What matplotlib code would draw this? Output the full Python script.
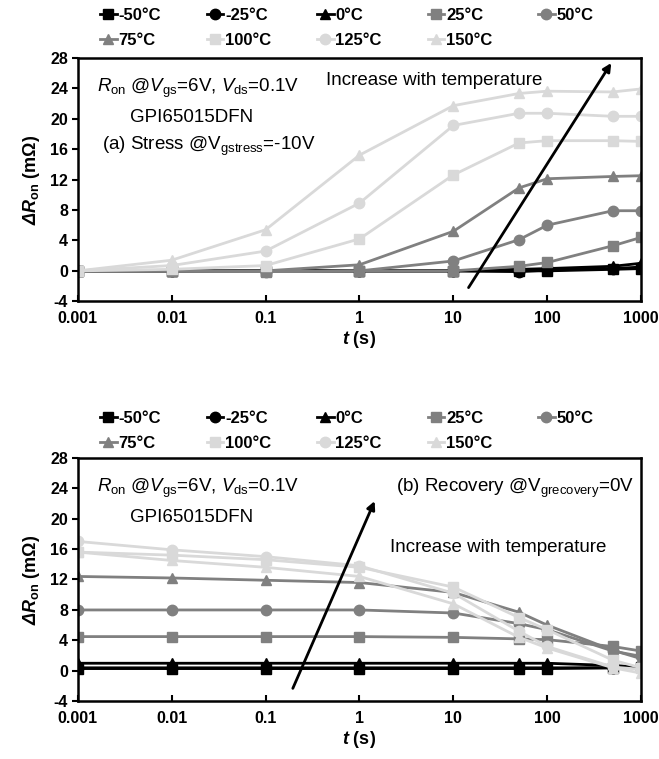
import matplotlib
matplotlib.use("Agg")
import matplotlib.pyplot as plt
from matplotlib.ticker import FixedLocator, NullLocator

plt.rcParams["font.family"] = ["Liberation Sans", "DejaVu Sans"]
plt.rcParams["mathtext.fontset"] = "custom"
plt.rcParams["mathtext.rm"] = "Liberation Sans"
plt.rcParams["mathtext.it"] = "Liberation Sans:italic"
plt.rcParams["mathtext.bf"] = "Liberation Sans:bold"
plt.rcParams["mathtext.bfit"] = "Liberation Sans:italic:bold"
plt.rcParams["axes.unicode_minus"] = False

# time points (s)
t = [0.001, 0.01, 0.1, 1, 10, 50, 100, 500, 1000]
temps = ["-50°C", "-25°C", "0°C", "25°C", "50°C", "75°C", "100°C", "125°C", "150°C"]

# (a) stress, delta R_on in mOhm
stress_m50 = [0.0, 0.0, 0.0, 0.0, 0.0, 0.0, 0.0, 0.2, 0.3]
stress_m25 = [0.0, 0.0, 0.0, 0.0, 0.0, -0.1, 0.1, 0.3, 0.5]
stress_0 = [0.0, 0.0, 0.0, 0.0, 0.0, 0.2, 0.3, 0.6, 1.0]
stress_25 = [0.0, 0.0, -0.1, 0.0, 0.0, 0.6, 1.1, 3.3, 4.4]
stress_50 = [0.0, 0.0, -0.1, 0.0, 1.3, 4.1, 6.0, 7.9, 7.9]
stress_75 = [0.0, 0.0, 0.0, 0.8, 5.2, 10.9, 12.1, 12.4, 12.5]
stress_100 = [0.0, 0.2, 0.7, 4.2, 12.6, 16.8, 17.1, 17.1, 17.0]
stress_125 = [0.0, 0.7, 2.6, 8.9, 19.1, 20.7, 20.7, 20.3, 20.3]
stress_150 = [0.0, 1.4, 5.4, 15.2, 21.7, 23.3, 23.6, 23.5, 23.9]

# (b) recovery, delta R_on in mOhm
rec_m50 = [0.3, 0.3, 0.3, 0.3, 0.3, 0.3, 0.3, 0.4, 0.5]
rec_m25 = [0.4, 0.4, 0.4, 0.4, 0.4, 0.4, 0.4, 0.4, 0.5]
rec_0 = [1.0, 1.0, 1.0, 1.0, 1.0, 1.0, 1.0, 0.7, 0.5]
rec_25 = [4.5, 4.5, 4.5, 4.5, 4.4, 4.2, 4.1, 3.2, 2.6]
rec_50 = [8.0, 8.0, 8.0, 8.0, 7.6, 6.2, 5.4, 2.6, 1.9]
rec_75 = [12.4, 12.2, 11.9, 11.6, 10.3, 7.7, 6.0, 2.7, 1.6]
rec_100 = [15.6, 15.2, 14.6, 13.6, 11.0, 7.0, 5.4, 1.4, 0.4]
rec_125 = [17.0, 15.9, 15.0, 13.8, 10.2, 5.2, 3.2, 0.5, 0.2]
rec_150 = [15.6, 14.5, 13.6, 12.4, 8.8, 4.4, 3.0, 0.4, -0.3]

stress = [stress_m50, stress_m25, stress_0, stress_25, stress_50,
          stress_75, stress_100, stress_125, stress_150]
recovery = [rec_m50, rec_m25, rec_0, rec_25, rec_50,
            rec_75, rec_100, rec_125, rec_150]

colors = ["#000000"] * 3 + ["#808080"] * 3 + ["#d9d9d9"] * 3
markers = ["s", "o", "^"] * 3

xticks = [0.001, 0.01, 0.1, 1, 10, 100, 1000]
xticklabels = ["0.001", "0.01", "0.1", "1", "10", "100", "1000"]
yticks = [-4, 0, 4, 8, 12, 16, 20, 24, 28]

fig = plt.figure(figsize=(6.59, 7.59), dpi=100)
ax_a = fig.add_axes([0.118, 0.603, 0.855, 0.321])
ax_b = fig.add_axes([0.118, 0.076, 0.855, 0.321])


def draw_panel(ax, series, leg_y):
    handles = []
    for vals, c, m, lab in zip(series, colors, markers, temps):
        h, = ax.plot(t, vals, color=c, marker=m, markersize=7.5, linewidth=2,
                     label=lab)
        handles.append(h)
    ax.set_xscale("log")
    ax.set_xlim(0.001, 1000)
    ax.set_ylim(-4, 28)
    ax.xaxis.set_major_locator(FixedLocator(xticks))
    ax.xaxis.set_minor_locator(NullLocator())
    ax.set_xticklabels(xticklabels)
    ax.set_yticks(yticks)
    ax.tick_params(axis="x", direction="in", length=4, width=1.5, pad=7)
    ax.tick_params(axis="y", direction="out", length=4, width=1.5, pad=3)
    for lab in ax.get_xticklabels() + ax.get_yticklabels():
        lab.set_fontweight("bold")
        lab.set_fontsize(11.5)
    for sp in ax.spines.values():
        sp.set_linewidth(1.8)
    ax.set_xlabel(r"$\mathbfit{t}$ (s)", fontsize=13, fontweight="bold",
                  labelpad=2)
    ax.set_ylabel(r"$\mathbfit{\Delta R}_{\mathbf{on}}\ \mathbf{(m\Omega)}$",
                  fontsize=13, labelpad=6)
    order = [0, 5, 1, 6, 2, 7, 3, 8, 4]
    ax.legend([handles[i] for i in order], [temps[i] for i in order],
              ncol=5, loc="lower left", bbox_to_anchor=(0.022, leg_y),
              frameon=False, handlelength=1.0, handletextpad=0.1,
              columnspacing=2.75, labelspacing=0.6,
              prop={"weight": "bold", "size": 12}, borderaxespad=0.2)


draw_panel(ax_a, stress, 1.0)
draw_panel(ax_b, recovery, 0.985)

ax_a.text(0.0016, 24, r"$\it{R}_{\rm on}$ @$\it{V}_{\rm gs}$=6V, $\it{V}_{\rm ds}$=0.1V",
          fontsize=13.5, va="center")
ax_a.text(0.0036, 20.1, "GPI65015DFN", fontsize=13.5, va="center")
ax_a.text(0.0018, 16.3, r"(a) Stress @V$_{\rm gstress}$=-10V", fontsize=13.5,
          va="center")
ax_a.text(0.44, 25.0, "Increase with temperature", fontsize=13.5, va="center")
ax_a.annotate("", xy=(480, 27.3), xytext=(14.5, -2.2),
              arrowprops=dict(arrowstyle="-|>", color="black", lw=2,
                              mutation_scale=12, shrinkA=0, shrinkB=0))

ax_b.text(0.0016, 24, r"$\it{R}_{\rm on}$ @$\it{V}_{\rm gs}$=6V, $\it{V}_{\rm ds}$=0.1V",
          fontsize=13.5, va="center")
ax_b.text(0.0036, 20.1, "GPI65015DFN", fontsize=13.5, va="center")
ax_b.text(2.45, 24, r"(b) Recovery @V$_{\rm grecovery}$=0V", fontsize=13.5,
          va="center")
ax_b.text(2.1, 16.2, "Increase with temperature", fontsize=13.5, va="center")
ax_b.annotate("", xy=(1.45, 22.3), xytext=(0.195, -2.3),
              arrowprops=dict(arrowstyle="-|>", color="black", lw=2,
                              mutation_scale=12, shrinkA=0, shrinkB=0))

fig.savefig("out.png", dpi=100)
